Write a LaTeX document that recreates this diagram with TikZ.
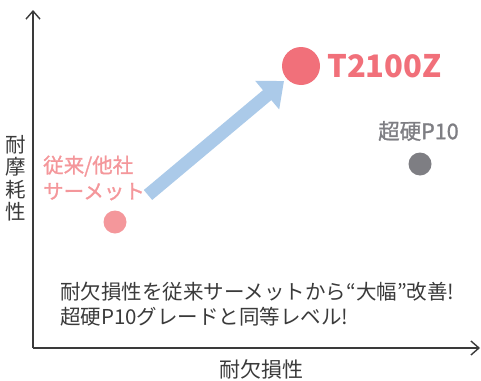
\documentclass[tikz,border=0pt]{standalone}
\usepackage{fontspec}
\setmainfont{Noto Sans CJK JP}
\newfontfamily\cjkmed{Noto Sans CJK JP}[FakeBold=1.2]
\usetikzlibrary{arrows.meta}
\definecolor{tred}{HTML}{F1707A}
\definecolor{tpink}{HTML}{F4979B}
\definecolor{tblue}{HTML}{ABCAE9}
\definecolor{tgray}{HTML}{7E7E83}
\definecolor{taxis}{HTML}{3A3A3A}
\tikzset{
  axis/.style={draw=taxis, line width=1.4pt, -{Straight Barb[length=8pt,width=14pt,line width=1.4pt]}},
  lbl/.style={inner sep=0pt, text=taxis},
  dot/.style={circle, inner sep=0pt, draw=none},
}
\begin{document}
\begin{tikzpicture}[x=1pt,y=-1pt]
\useasboundingbox (0,0) rectangle (481,380);
% axes
\coordinate (o) at (33,348);
\coordinate (ytop) at (33,10);
\coordinate (xend) at (480,348);
\draw[axis] (o) -- (ytop);
\draw[axis] (o) -- (xend);
% axis labels
\node[lbl, align=center, font=\fontsize{20.5}{22.5}\selectfont] (ylab) at (16,178) {耐\\摩\\耗\\性};
\node[lbl, font=\fontsize{21}{24}\selectfont] (xlab) at (261,369) {耐欠損性};
% blue arrow
\coordinate (as) at (148,195);
\coordinate (ae) at (284,81);
\draw[tblue, line width=13pt, -{Triangle[length=22pt,width=36pt]}] (as) -- (ae);
% dots
\node[dot, fill=tred, minimum size=38pt] (big) at (301,66) {};
\node[dot, fill=tpink, minimum size=23pt] (old) at (115,222) {};
\node[dot, fill=tgray, minimum size=23pt] (p10) at (420,164) {};
% labels
\node[inner sep=0pt, anchor=west, text=tred, font=\fontsize{31}{34}\selectfont\bfseries] (tname) at (327,66) {T2100Z};
\node[inner sep=0pt, anchor=west, text=tgray, font=\cjkmed\fontsize{21.5}{22}\selectfont] (p10lab) at (378,131) {超硬P10};
\node[inner sep=0pt, anchor=west, text=tpink, align=left, font=\cjkmed\fontsize{20.5}{26}\selectfont] (oldlab) at (43,178) {従来/他社\\サーメット};
% body text
\node[lbl, anchor=west, align=left, font=\fontsize{20.5}{25.5}\selectfont] (body) at (60,304) {耐欠損性を従来サーメットから“大幅”改善!\\超硬P10グレードと同等レベル!};
\end{tikzpicture}
\end{document}
